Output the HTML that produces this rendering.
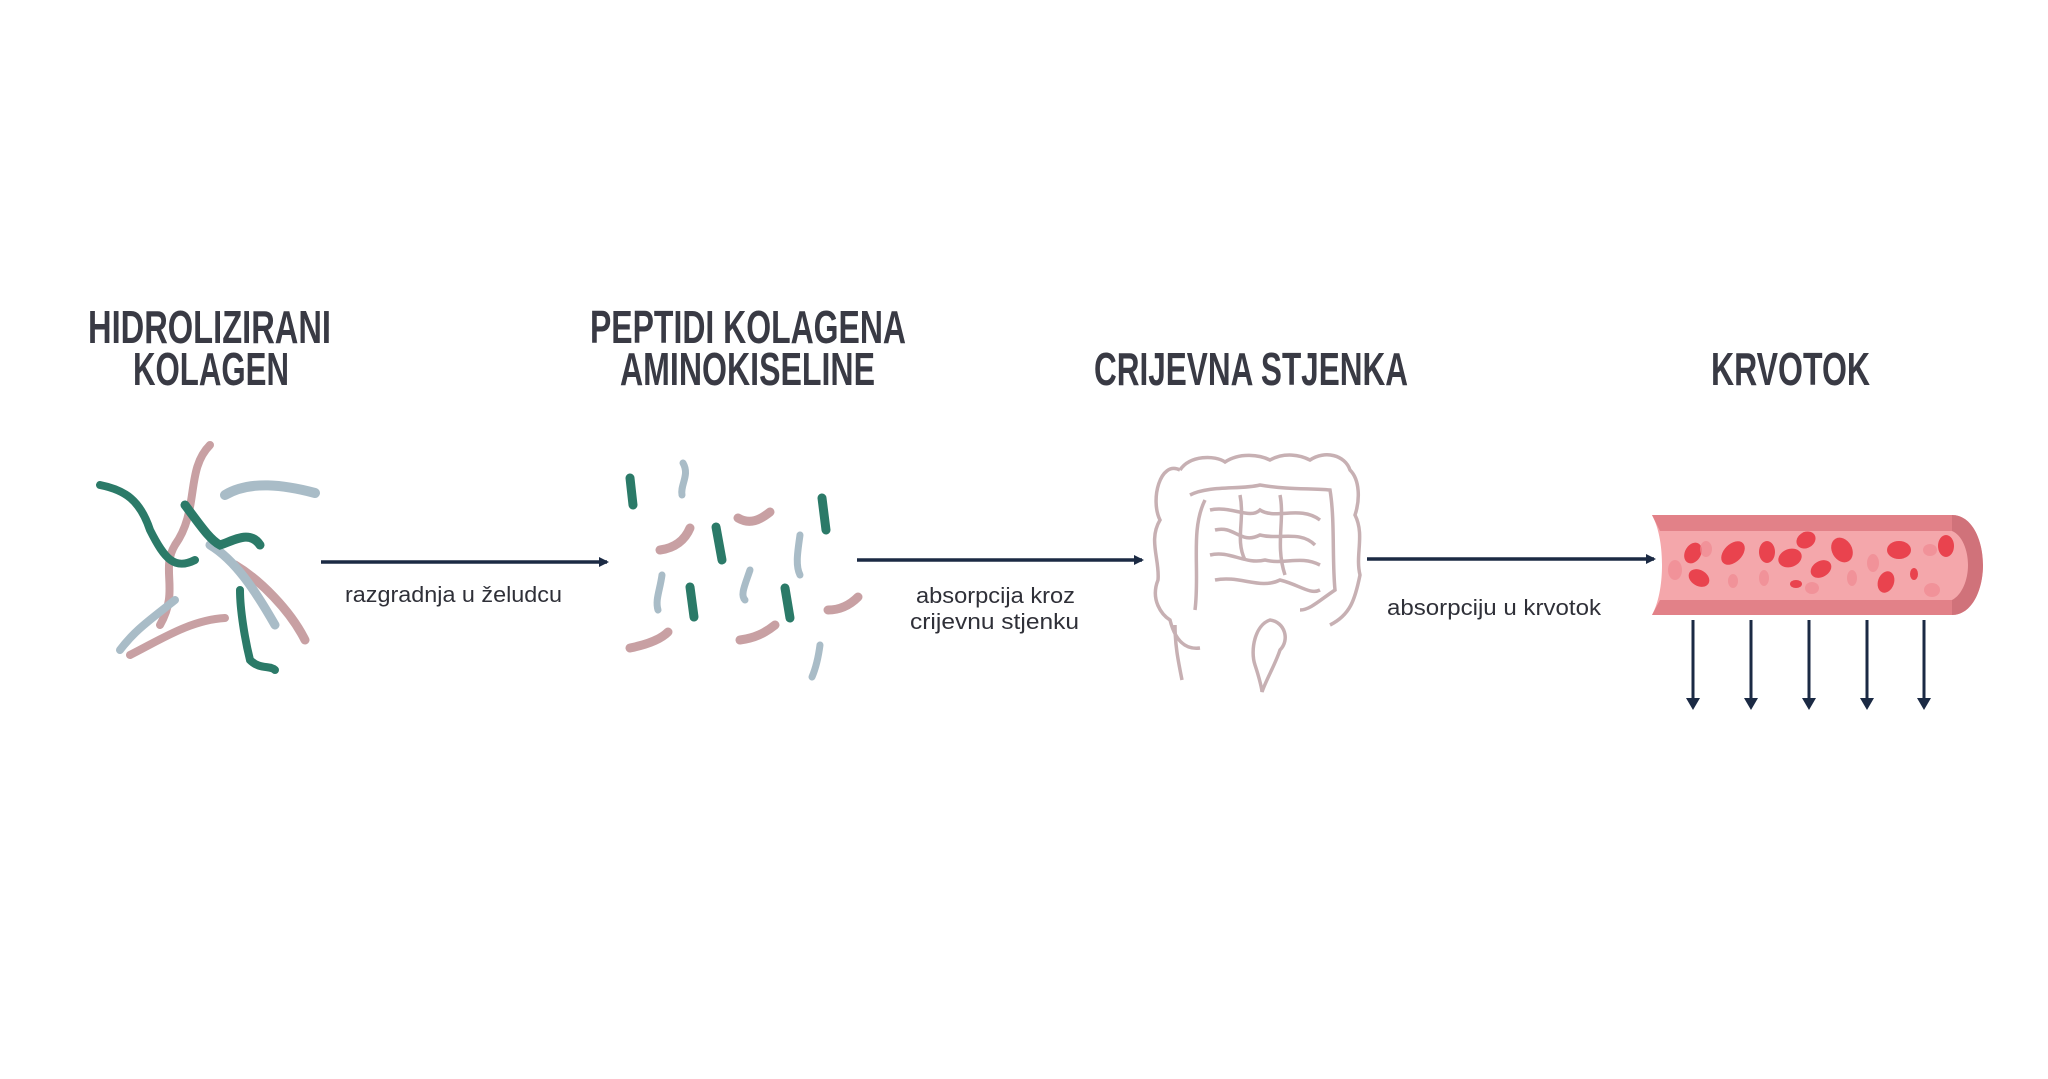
<!DOCTYPE html>
<html><head><meta charset="utf-8"><style>
html,body{margin:0;padding:0;background:#fff;}
svg{display:block;}
</style></head><body>
<svg width="2048" height="1079" viewBox="0 0 2048 1079" xmlns="http://www.w3.org/2000/svg">
<defs>
<marker id="ah" markerWidth="10" markerHeight="10" refX="8" refY="5" orient="auto" markerUnits="userSpaceOnUse"><path d="M0,0 L10,5 L0,10 Z" fill="#1b2a44"/></marker>
</defs>
<rect width="2048" height="1079" fill="#fff"/>
<!-- titles -->
<g font-family="Liberation Sans, sans-serif" font-weight="bold" font-size="46" fill="#393a44">
<text x="88" y="343" textLength="243" lengthAdjust="spacingAndGlyphs">HIDROLIZIRANI</text>
<text x="133" y="385" textLength="156" lengthAdjust="spacingAndGlyphs">KOLAGEN</text>
<text x="590" y="343" textLength="316" lengthAdjust="spacingAndGlyphs">PEPTIDI KOLAGENA</text>
<text x="620" y="385" textLength="255" lengthAdjust="spacingAndGlyphs">AMINOKISELINE</text>
<text x="1094" y="385" textLength="314" lengthAdjust="spacingAndGlyphs">CRIJEVNA STJENKA</text>
<text x="1711" y="385" textLength="159" lengthAdjust="spacingAndGlyphs">KRVOTOK</text>
</g>
<!-- arrows -->
<g stroke="#1b2a44" stroke-width="3.5" fill="none">
<line x1="321" y1="562" x2="607" y2="562" marker-end="url(#ah)"/>
<line x1="857" y1="560" x2="1142" y2="560" marker-end="url(#ah)"/>
<line x1="1367" y1="559" x2="1654" y2="559" marker-end="url(#ah)"/>
</g>
<g stroke="#1b2a44" stroke-width="3">
<line x1="1693" y1="620" x2="1693" y2="700"/><line x1="1751" y1="620" x2="1751" y2="700"/>
<line x1="1809" y1="620" x2="1809" y2="700"/><line x1="1867" y1="620" x2="1867" y2="700"/>
<line x1="1924" y1="620" x2="1924" y2="700"/>
</g>
<g fill="#1b2a44">
<path d="M1686,698 h14 l-7,12 z"/><path d="M1744,698 h14 l-7,12 z"/><path d="M1802,698 h14 l-7,12 z"/><path d="M1860,698 h14 l-7,12 z"/><path d="M1917,698 h14 l-7,12 z"/>
</g>
<!-- labels -->
<g font-family="Liberation Sans, sans-serif" font-size="22" fill="#2f3038">
<text x="345" y="602" textLength="217" lengthAdjust="spacingAndGlyphs">razgradnja u želudcu</text>
<text x="916" y="603" textLength="159" lengthAdjust="spacingAndGlyphs">absorpcija kroz</text>
<text x="910" y="629" textLength="169" lengthAdjust="spacingAndGlyphs">crijevnu stjenku</text>
<text x="1387" y="615" textLength="214" lengthAdjust="spacingAndGlyphs">absorpciju u krvotok</text>
</g>
<!-- collagen strands -->
<g fill="none" stroke-linecap="round">
<path d="M210,445 C185,470 200,510 175,545 C160,570 180,590 160,625" stroke="#c8a0a3" stroke-width="8"/>
<path d="M225,495 C250,480 285,485 315,493" stroke="#a9bcc7" stroke-width="10"/>
<path d="M175,600 C150,620 135,630 120,650" stroke="#a9bcc7" stroke-width="8"/>
<path d="M235,565 C260,580 290,610 305,640" stroke="#c8a0a3" stroke-width="9"/>
<path d="M210,545 C235,560 255,590 275,625" stroke="#a9bcc7" stroke-width="9"/>
<path d="M130,655 C160,640 190,620 225,618" stroke="#c8a0a3" stroke-width="8"/>
<path d="M100,485 C125,490 140,500 150,530 C165,560 175,570 195,560" stroke="#2b7a68" stroke-width="8"/>
<path d="M185,505 C200,525 210,540 220,545 C235,540 250,530 260,545" stroke="#2b7a68" stroke-width="9"/>
<path d="M240,590 C240,610 245,640 250,660 C260,670 270,665 275,670" stroke="#2b7a68" stroke-width="8"/>
</g>
<!-- peptides -->
<g stroke-linecap="round" fill="none" stroke-width="9">
<path d="M630,478 L633,505" stroke="#2b7a68"/>
<path d="M683,463 C690,475 680,485 682,495" stroke="#a9bcc7" stroke-width="7"/>
<path d="M738,518 C750,525 760,520 770,512" stroke="#c8a0a3"/>
<path d="M822,498 L826,530" stroke="#2b7a68"/>
<path d="M660,550 C675,548 685,540 690,528" stroke="#c8a0a3"/>
<path d="M716,527 L722,560" stroke="#2b7a68"/>
<path d="M800,535 C798,550 795,565 800,575" stroke="#a9bcc7" stroke-width="7"/>
<path d="M662,575 C660,590 655,600 658,610" stroke="#a9bcc7" stroke-width="7"/>
<path d="M690,587 L694,617" stroke="#2b7a68"/>
<path d="M750,570 C745,585 740,595 745,600" stroke="#a9bcc7" stroke-width="7"/>
<path d="M785,588 L790,618" stroke="#2b7a68"/>
<path d="M828,610 C840,610 850,605 858,597" stroke="#c8a0a3"/>
<path d="M740,640 C755,638 765,633 775,625" stroke="#c8a0a3"/>
<path d="M630,648 C645,645 660,640 668,632" stroke="#c8a0a3"/>
<path d="M820,645 C818,660 815,670 812,677" stroke="#a9bcc7" stroke-width="7"/>
</g>
<!-- intestine -->
<g fill="none" stroke="#c7b0b3" stroke-width="3.5">
<path d="M1180,470 C1160,460 1150,500 1160,520 C1148,540 1160,560 1158,580 C1150,600 1162,615 1170,620 C1175,640 1185,650 1200,648"/>
<path d="M1180,470 C1190,455 1215,455 1225,462 C1240,452 1260,455 1270,460 C1285,452 1300,455 1310,460 C1325,450 1345,455 1350,470 C1360,480 1360,500 1355,515 C1365,535 1355,555 1360,575 C1355,600 1350,615 1330,625"/>
<path d="M1190,495 C1210,485 1240,490 1260,485 C1290,490 1310,488 1330,490 C1335,520 1332,560 1335,590 C1320,600 1310,610 1300,610"/>
<path d="M1205,500 C1190,530 1200,570 1195,610"/>
<path d="M1210,510 C1230,505 1250,520 1260,510 C1275,520 1300,505 1320,520 M1215,530 C1235,525 1240,545 1260,535 C1280,540 1300,530 1315,545 M1210,555 C1230,550 1245,565 1265,560 C1285,565 1300,555 1320,565 M1215,580 C1240,575 1260,590 1280,580 C1300,585 1310,595 1320,590"/>
<path d="M1240,495 C1245,520 1235,540 1245,560 M1280,495 C1285,520 1275,545 1285,575"/>
<path d="M1270,620 C1255,625 1250,650 1255,665 C1260,680 1262,690 1262,692 C1266,680 1275,665 1280,650 C1290,640 1285,622 1270,620 Z"/>
<path d="M1175,625 C1175,645 1178,660 1182,680"/>
</g>
<!-- blood vessel -->
<path d="M1652,515 L1952,515 C1972,515 1983,540 1983,565 C1983,590 1972,615 1952,615 L1652,615 C1660,600 1662,580 1662,565 C1662,550 1660,530 1652,515 Z" fill="#f4a7ab"/>
<path d="M1652,515 L1952,515 L1952,531 L1660,531 Z" fill="#e28188"/>
<path d="M1660,600 L1952,600 L1952,615 L1652,615 Z" fill="#e28188"/>
<path d="M1952,515 C1972,515 1983,540 1983,565 C1983,590 1972,615 1952,615 L1952,600 C1962,595 1968,580 1968,565 C1968,550 1962,535 1952,531 Z" fill="#d0727a"/>
<g fill="#e9434e">
<ellipse cx="1693" cy="553" rx="8" ry="11" transform="rotate(30 1693 553)"/>
<ellipse cx="1733" cy="553" rx="9" ry="14" transform="rotate(45 1733 553)"/>
<ellipse cx="1767" cy="552" rx="8" ry="11"/>
<ellipse cx="1790" cy="558" rx="9" ry="12" transform="rotate(70 1790 558)"/>
<ellipse cx="1806" cy="540" rx="8" ry="10" transform="rotate(60 1806 540)"/>
<ellipse cx="1842" cy="550" rx="10" ry="13" transform="rotate(-30 1842 550)"/>
<ellipse cx="1821" cy="569" rx="8" ry="11" transform="rotate(60 1821 569)"/>
<ellipse cx="1699" cy="578" rx="8" ry="11" transform="rotate(-60 1699 578)"/>
<ellipse cx="1899" cy="550" rx="12" ry="9"/>
<ellipse cx="1946" cy="546" rx="8" ry="11"/>
<ellipse cx="1886" cy="582" rx="8" ry="11" transform="rotate(20 1886 582)"/>
<ellipse cx="1914" cy="574" rx="4" ry="6"/>
<ellipse cx="1796" cy="584" rx="6" ry="4"/>
</g>
<g fill="#f08a92" opacity="0.7">
<ellipse cx="1675" cy="570" rx="7" ry="10"/>
<ellipse cx="1706" cy="549" rx="6" ry="8"/>
<ellipse cx="1733" cy="581" rx="5" ry="7"/>
<ellipse cx="1764" cy="578" rx="5" ry="8"/>
<ellipse cx="1812" cy="588" rx="7" ry="6"/>
<ellipse cx="1852" cy="578" rx="5" ry="8"/>
<ellipse cx="1873" cy="563" rx="6" ry="9"/>
<ellipse cx="1932" cy="590" rx="8" ry="7"/>
<ellipse cx="1930" cy="550" rx="7" ry="6"/>
</g>
</svg>
</body></html>
